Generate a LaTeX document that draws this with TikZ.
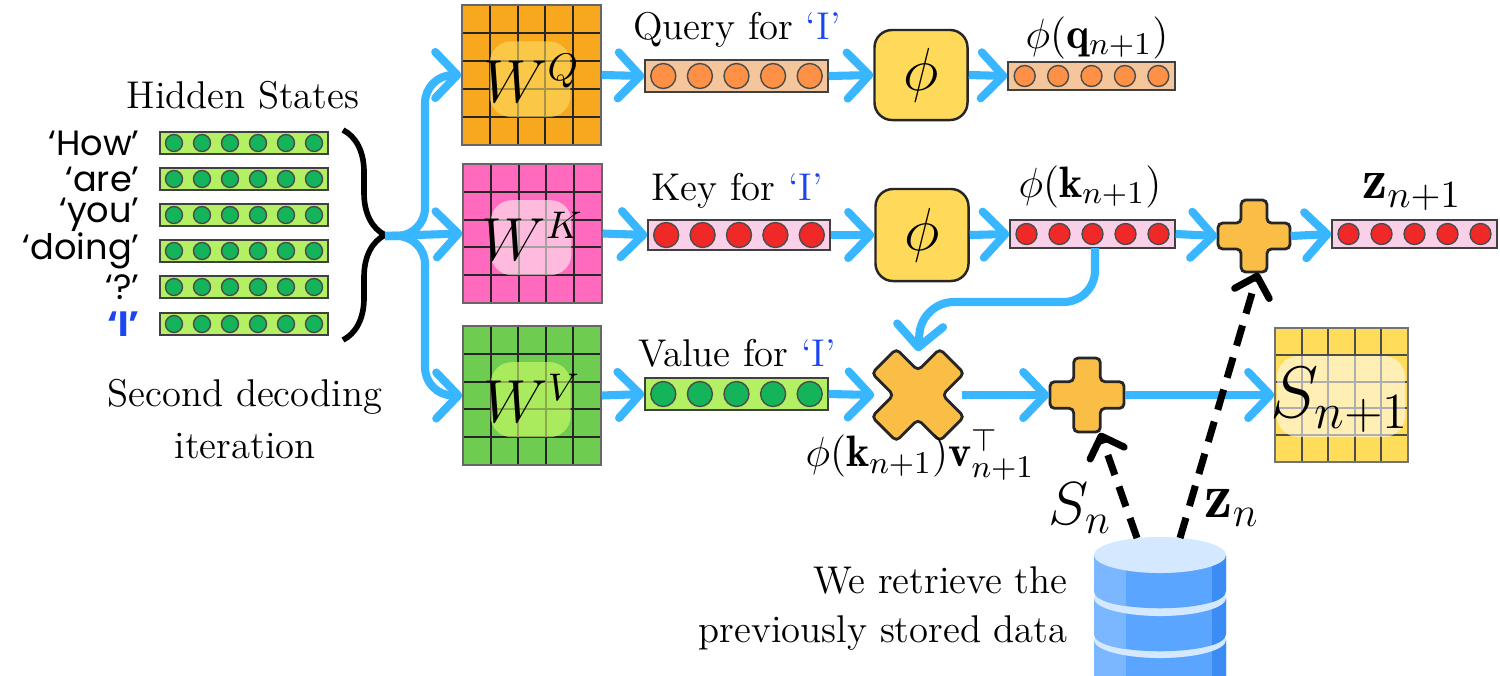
\documentclass[tikz,border=0pt]{standalone}
\usepackage{fontspec}
\newfontfamily\pop{Poppins}
\usetikzlibrary{arrows.meta,decorations.pathreplacing}
\definecolor{ablue}{RGB}{56,182,255}
\definecolor{tblue}{RGB}{25,70,240}
\definecolor{qmat}{RGB}{247,168,30}
\definecolor{kmat}{RGB}{255,105,190}
\definecolor{vmat}{RGB}{110,205,80}
\definecolor{smat}{RGB}{255,220,90}
\definecolor{phiy}{RGB}{255,218,90}
\definecolor{plusc}{RGB}{250,190,70}
\definecolor{hgfill}{RGB}{180,240,100}
\definecolor{hgc}{RGB}{20,180,90}
\definecolor{qfill}{RGB}{245,198,155}
\definecolor{qc}{RGB}{255,145,70}
\definecolor{kfill}{RGB}{250,208,232}
\definecolor{kc}{RGB}{240,40,40}
\definecolor{dbblue}{RGB}{90,165,255}
\definecolor{dbdark}{RGB}{60,140,245}
\definecolor{dblight}{RGB}{212,232,255}
\newcommand\vrow[9]{%
  \node[draw=black!75,fill=#6,inner sep=0,minimum width={(#3-#2)*0.01cm},minimum height={#5*0.01cm}] (#1) at ({(#2+#3)/2},#4) {};
  \foreach \i in {1,...,#8}{\draw[black!70,fill=#7] ({#2+(#3-#2)*(\i-0.5)/#8},#4) circle[radius=#9*0.01cm];}
}
\newcommand\mymat[8]{%
  \fill[#6] (#2,#3) rectangle (#4,#5);
  \foreach \i in {1,...,4}{
    \draw[black!85,line width=.6pt] ({#2+(#4-#2)*\i/5},#3) -- ({#2+(#4-#2)*\i/5},#5);
    \draw[black!85,line width=.6pt] (#2,{#3+(#5-#3)*\i/5}) -- (#4,{#3+(#5-#3)*\i/5});}
  \draw[black!60,line width=.6pt] (#2,#3) rectangle (#4,#5);
  \fill[#7,rounded corners=6pt,opacity=.6] ({#2+(#4-#2)*0.2},{#3+(#5-#3)*0.26}) rectangle ({#2+(#4-#2)*0.78},{#3+(#5-#3)*0.8});
  \node[inner sep=0,minimum width={(#4-#2)*0.01cm},minimum height={(#5-#3)*0.01cm}] (#1) at ({(#2+#4)/2},{(#3+#5)/2}) {};
  \node at ({(#2+#4)/2},{(#3+#5)/2+3}) {\fontsize{16}{16}\selectfont$#8$};
}
\newcommand\plusat[5]{%
  \begin{scope}[shift={(#2,#3)},rotate=#5]
  \filldraw[fill=plusc,draw=black!85,line width=.8pt,rounded corners=1.3pt]
   ({0.36*#4},#4)--({0.36*#4},{0.36*#4})--(#4,{0.36*#4})--(#4,{-0.36*#4})--({0.36*#4},{-0.36*#4})--({0.36*#4},-#4)
   --({-0.36*#4},-#4)--({-0.36*#4},{-0.36*#4})--(-#4,{-0.36*#4})--(-#4,{0.36*#4})--({-0.36*#4},{0.36*#4})--({-0.36*#4},#4)--cycle;
  \end{scope}
}
\begin{document}
\begin{tikzpicture}[x=0.01cm,y=-0.01cm,
  ar/.style={ablue,line width=2.3pt,-{Straight Barb[length=2.2mm,width=4.6mm,round]}},
  da/.style={black,line width=2pt,dash pattern=on 6pt off 3.5pt,-{Straight Barb[length=1.8mm,width=3.6mm,round]}},
  lab/.style={font=\fontsize{11}{13}\selectfont},
  tok/.style={anchor=east,font=\pop\fontsize{10}{11}\selectfont}]
\useasboundingbox (0,0) rectangle (1500,675);

% hidden states
\node[lab] (hs) at (243,95) {Hidden States};
\foreach \y/\t/\n in {143/‘How’/h1,179/‘are’/h2,215/‘you’/h3,251/‘doing’/h4,287/‘?’/h5}{
  \node[tok] at (152,\y) {\t};
  \vrow{\n}{160}{328}{\y}{22}{hgfill}{hgc}{6}{8.5}
}
\node[tok,text=tblue,font=\pop\bfseries\fontsize{10}{11}\selectfont] at (152,324) {‘I’};
\vrow{h6}{160}{328}{324}{22}{hgfill}{hgc}{6}{8.5}
\begin{scope}[y=0.01cm]
\draw[line width=1.6pt,decorate,decoration={brace,amplitude=0.42cm}] (343,-130) -- (343,-340);
\end{scope}
\coordinate (br) at (385,236);
\node[lab] at (245,397) {Second decoding};
\node[lab] at (245,446) {iteration};

% matrices
\mymat{WQ}{462}{5}{601}{145}{qmat}{yellow!60!orange!60}{W^Q}
\mymat{WK}{463}{164}{602}{303}{kmat}{white!80!pink}{W^K}
\mymat{WV}{463}{326}{601}{465}{vmat}{green!30!yellow!60}{W^V}

\draw[ar,rounded corners=8pt] (br) -- (425,236) |- (WQ.west);
\draw[ar] (br) -- (WK.west);
\draw[ar,rounded corners=8pt] (br) -- (425,236) |- (WV.west);

% vectors
\node[lab] at (737,30) {Query for \textcolor{tblue}{‘I’}};
\vrow{q}{645}{828}{76}{32}{qfill}{qc}{5}{12.5}
\node[lab] at (737,191) {Key for \textcolor{tblue}{‘I’}};
\vrow{k}{648}{830}{235}{30}{kfill}{kc}{5}{12.5}
\node[lab] at (737,353) {Value for \textcolor{tblue}{‘I’}};
\vrow{v}{645}{828}{394}{32}{hgfill}{hgc}{5}{12.5}
\draw[ar] (WQ.east) -- (q.west);
\draw[ar] (WK.east) -- (k.west);
\draw[ar] (WV.east) -- (v.west);

% phi boxes
\node[draw=black!85,fill=phiy,rounded corners=5pt,minimum width=0.93cm,minimum height=0.9cm,line width=.7pt] (phi1) at (921,75) {\fontsize{17}{17}\selectfont$\phi$};
\node[draw=black!85,fill=phiy,rounded corners=5pt,minimum width=0.93cm,minimum height=0.92cm,line width=.7pt] (phi2) at (922,235) {\fontsize{17}{17}\selectfont$\phi$};
\draw[ar] (q.east) -- (phi1.west);
\draw[ar] (k.east) -- (phi2.west);

\node[font=\fontsize{12.5}{14}\selectfont] at (1097,38) {$\phi(\mathbf{q}_{n+1})$};
\vrow{pq}{1008}{1175}{76}{28}{qfill}{qc}{5}{10.5}
\node[font=\fontsize{12.5}{14}\selectfont] at (1090,187) {$\phi(\mathbf{k}_{n+1})$};
\vrow{pk}{1010}{1175}{234}{28}{kfill}{kc}{5}{10.5}
\draw[ar] (phi1.east) -- (pq.west);
\draw[ar] (phi2.east) -- (pk.west);

% plus 1 and z
\plusat{p1}{1254}{236}{36}{0}
\node[inner sep=0,minimum size=0.72cm] (p1) at (1254,236) {};
\draw[ar] (pk.east) -- (p1.west);
\node[font=\fontsize{16}{17}\selectfont] at (1412,192) {$\mathbf{z}_{n+1}$};
\vrow{z}{1332}{1497}{234}{28}{kfill}{kc}{5}{10.5}
\draw[ar] (p1.east) -- (z.west);

% cross
\plusat{cx}{918}{395}{48}{45}
\node[circle,inner sep=0,minimum size=0.86cm] (cx) at (918,395) {};
\draw[ar,rounded corners=9pt] (1095,248) -- (1095,302) -- (922,302) -- (cx.north);
\draw[ar] (v.east) -- (cx.west);
\node[font=\fontsize{12.5}{14}\selectfont] at (920,455) {$\phi(\mathbf{k}_{n+1})\mathbf{v}_{n+1}^{\top}$};

% plus 2
\plusat{p2}{1087}{395}{37}{0}
\node[inner sep=0,minimum size=0.74cm] (p2) at (1087,395) {};
\draw[ar] (cx.east) -- (p2.west);

% S matrix
\fill[smat] (1275,328) rectangle (1408,462);
\foreach \i in {1,...,4}{
  \draw[black!70,line width=.6pt] ({1275+133*\i/5},328) -- ({1275+133*\i/5},462);
  \draw[black!70,line width=.6pt] (1275,{328+134*\i/5}) -- (1408,{328+134*\i/5});}
\draw[black!55,line width=.6pt] (1275,328) rectangle (1408,462);
\fill[white,opacity=.55,rounded corners=6pt] (1277,356) rectangle (1405,437);
\node[inner sep=0,minimum width=1.33cm,minimum height=1.34cm] (S) at (1341.5,395) {};
\node at (1340,400) {\fontsize{21}{21}\selectfont$S_{n+1}$};
\draw[ar] (p2.east) -- (S.west);

% database
\foreach \yt in {640,598,555}{
  \begin{scope}
  \clip (1094,\yt) -- (1094,\yt+36) .. controls (1094,\yt+59) and (1226,\yt+59) .. (1226,\yt+36) -- (1226,\yt) -- cycle;
  \fill[dbblue] (1090,\yt-5) rectangle (1230,\yt+65);
  \fill[dbdark] (1212,\yt-5) rectangle (1230,\yt+65);
  \fill[dbblue!80!white] (1090,\yt-5) rectangle (1126,\yt+65);
  \end{scope}
  \fill[dblight] (1160,\yt) ellipse [x radius=0.66cm,y radius=0.18cm];
}
\coordinate (d1) at (1137,538);
\coordinate (d2) at (1180,538);
\draw[da] (d1) -- ([xshift=0.13cm]p2.south);
\draw[da] (d2) -- ([xshift=0.04cm]p1.south);
\node[font=\fontsize{18}{18}\selectfont] at (1080,508) {$S_n$};
\node[font=\fontsize{18}{18}\selectfont] at (1232,508) {$\mathbf{z}_n$};

\node[lab,anchor=east] at (1080,580) {We retrieve the};
\node[lab,anchor=east] at (1080,633) {previously stored data};
\end{tikzpicture}
\end{document}
